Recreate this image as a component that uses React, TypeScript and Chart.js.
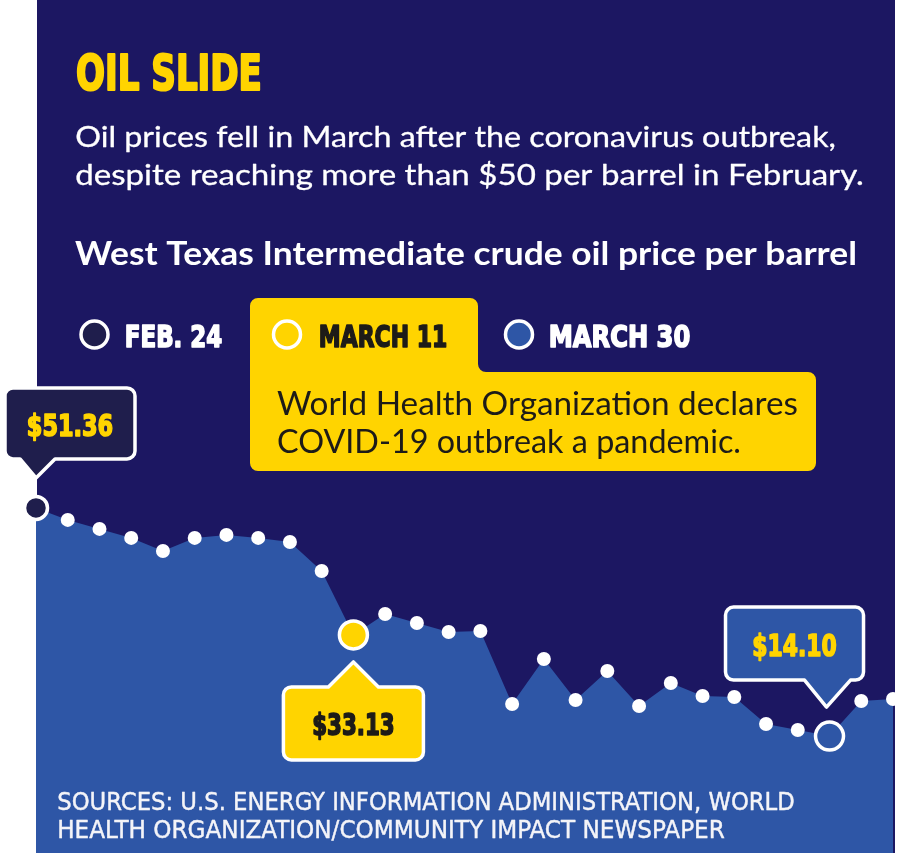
import React, { useEffect, useRef } from "react";
import { Chart, registerables } from "chart.js";

Chart.register(...registerables);

// ---------- data ----------
const dayLabels = [
  "Feb. 24", "", "", "", "", "", "", "", "", "",
  "March 11", "", "", "", "", "", "", "", "", "",
  "", "", "", "", "", "March 30", "", "",
];
const prices = [
  51.36, 49.4, 47.93, 46.46, 44.33, 46.46, 46.95, 46.46, 45.8, 41.06,
  30.61, 34.04, 32.57, 31.1, 31.26, 19.33, 26.68, 19.98, 24.72, 19.0,
  22.76, 20.64, 20.47, 16.06, 15.08, 14.1, 19.82, 20.15,
];
const keyIndex = [0, 10, 25];
const keyDates = ["FEB. 24", "MARCH 11", "MARCH 30"];
const keyPriceLabels = ["$51.36", "$33.13", "$14.10"];

const titleText = "OIL SLIDE";
const subtitleLines = [
  "Oil prices fell in March after the coronavirus outbreak,",
  "despite reaching more than $50 per barrel in February.",
];
const headingText = "West Texas Intermediate crude oil price per barrel";
const noteLines = [
  "World Health Organization declares",
  "COVID-19 outbreak a pandemic.",
];
const sourceLines = [
  "SOURCES: U.S. ENERGY INFORMATION ADMINISTRATION, WORLD",
  "HEALTH ORGANIZATION/COMMUNITY IMPACT NEWSPAPER",
];

// ---------- styles ----------
const NAVY = "#1c1762";
const BLUE = "#2e56a6";
const YELLOW = "#ffd400";
const DARK = "#1f1e4c";
const INK = "#1d1b18";
const WHITE = "#ffffff";
const COND = '"DejaVu Sans Condensed", "DejaVu Sans", sans-serif';
const SANS = 'Lato, "Noto Sans", sans-serif';

function fitText(
  ctx: CanvasRenderingContext2D,
  text: string,
  x: number,
  y: number,
  w: number,
  align: "left" | "center" = "left",
  heavy = 0
) {
  ctx.save();
  ctx.textAlign = "left";
  ctx.textBaseline = "alphabetic";
  const m = ctx.measureText(text).width || 1;
  const sx = (w - heavy) / m;
  const left = align === "center" ? x - w / 2 + heavy / 2 : x + heavy / 2;
  ctx.translate(left, y);
  ctx.scale(sx, 1);
  ctx.fillText(text, 0, 0);
  if (heavy > 0) {
    ctx.strokeStyle = ctx.fillStyle as string;
    ctx.lineWidth = heavy;
    ctx.lineJoin = "round";
    ctx.strokeText(text, 0, 0);
  }
  ctx.restore();
}

function circle(ctx: CanvasRenderingContext2D, x: number, y: number, r: number, fill: string, lw: number) {
  ctx.beginPath();
  ctx.arc(x, y, r, 0, Math.PI * 2);
  ctx.fillStyle = fill;
  ctx.fill();
  ctx.lineWidth = lw;
  ctx.strokeStyle = WHITE;
  ctx.stroke();
}

type Callout = {
  l: number; r: number; t: number; b: number;
  side: "top" | "bottom";
  baseL: number; baseR: number; tipX: number; tipY: number;
  fill: string; color: string; textW: number; textDy: number;
};

const callouts: Callout[] = [
  { l: -31, r: 99, t: -120, b: -49, side: "bottom", baseL: -16, baseR: 19, tipX: 0, tipY: -30, fill: DARK, color: YELLOW, textW: 88, textDy: 13 },
  { l: -70, r: 70, t: 52, b: 125, side: "top", baseL: -25, baseR: 25, tipX: 0, tipY: 27, fill: YELLOW, color: INK, textW: 84, textDy: 12 },
  { l: -104, r: 34, t: -129, b: -56, side: "bottom", baseL: -25, baseR: 21, tipX: -3, tipY: -29, fill: BLUE, color: YELLOW, textW: 86, textDy: 12 },
];

function calloutPath(ctx: CanvasRenderingContext2D, px: number, py: number, c: Callout) {
  const l = px + c.l, r = px + c.r, t = py + c.t, b = py + c.b;
  const rad = 8;
  ctx.beginPath();
  ctx.moveTo(l + rad, t);
  if (c.side === "top") {
    ctx.lineTo(px + c.baseL, t);
    ctx.lineTo(px + c.tipX, py + c.tipY);
    ctx.lineTo(px + c.baseR, t);
  }
  ctx.lineTo(r - rad, t);
  ctx.arcTo(r, t, r, t + rad, rad);
  ctx.lineTo(r, b - rad);
  ctx.arcTo(r, b, r - rad, b, rad);
  if (c.side === "bottom") {
    ctx.lineTo(px + c.baseR, b);
    ctx.lineTo(px + c.tipX, py + c.tipY);
    ctx.lineTo(px + c.baseL, b);
  }
  ctx.lineTo(l + rad, b);
  ctx.arcTo(l, b, l, b - rad, rad);
  ctx.lineTo(l, t + rad);
  ctx.arcTo(l, t, l + rad, t, rad);
  ctx.closePath();
}

const decorPlugin = {
  id: "decor",
  beforeDraw(chart: any) {
    const ctx: CanvasRenderingContext2D = chart.ctx;
    ctx.save();
    ctx.fillStyle = WHITE;
    ctx.fillRect(0, 0, chart.width, chart.height);
    ctx.fillStyle = NAVY;
    ctx.fillRect(37, 0, 858, 853);

    // title
    ctx.fillStyle = YELLOW;
    ctx.font = `bold 49px ${COND}`;
    fitText(ctx, titleText, 75, 90, 188, "left", 2.2);

    // subtitle
    ctx.fillStyle = WHITE;
    ctx.font = `29px ${SANS}`;
    fitText(ctx, subtitleLines[0], 75, 147, 761, "left", 0.3);
    fitText(ctx, subtitleLines[1], 75, 185, 789, "left", 0.3);

    ctx.font = `bold 32px ${SANS}`;
    fitText(ctx, headingText, 75, 265, 782);

    // yellow note box
    const r = 8;
    ctx.beginPath();
    ctx.moveTo(250 + r, 298);
    ctx.lineTo(478 - r, 298);
    ctx.arcTo(478, 298, 478, 298 + r, r);
    ctx.lineTo(478, 372 - r);
    ctx.arcTo(478, 372, 478 + r, 372, r);
    ctx.lineTo(816 - r, 372);
    ctx.arcTo(816, 372, 816, 372 + r, r);
    ctx.lineTo(816, 471 - r);
    ctx.arcTo(816, 471, 816 - r, 471, r);
    ctx.lineTo(250 + r, 471);
    ctx.arcTo(250, 471, 250, 471 - r, r);
    ctx.lineTo(250, 298 + r);
    ctx.arcTo(250, 298, 250 + r, 298, r);
    ctx.closePath();
    ctx.fillStyle = YELLOW;
    ctx.fill();

    ctx.fillStyle = INK;
    ctx.font = `32px ${SANS}`;
    fitText(ctx, noteLines[0], 277, 415, 521);
    fitText(ctx, noteLines[1], 277, 453, 464);

    // legend
    const legendX = [94.5, 287, 519];
    const legendFill = [DARK, YELLOW, BLUE];
    const legendTextX = [124, 318, 548];
    const legendTextW = [99, 130, 143];
    const legendColor = [WHITE, INK, WHITE];
    for (let i = 0; i < keyDates.length; i++) {
      circle(ctx, legendX[i], 334.5, 13.5, legendFill[i], 3.5);
      ctx.fillStyle = legendColor[i];
      ctx.font = `bold 31px ${COND}`;
      fitText(ctx, keyDates[i], legendTextX[i], 347, legendTextW[i], "left", 1.6);
    }
    ctx.restore();
  },
  afterDatasetsDraw(chart: any) {
    const ctx: CanvasRenderingContext2D = chart.ctx;
    ctx.save();
    // sources
    ctx.fillStyle = "#f4f4f8";
    ctx.font = `25px ${COND}`;
    fitText(ctx, sourceLines[0], 57, 810, 738, "left", 0.4);
    fitText(ctx, sourceLines[1], 57, 838, 668, "left", 0.4);

    // callouts
    const meta = chart.getDatasetMeta(0);
    keyIndex.forEach((idx, k) => {
      const pt = meta.data[idx];
      const c = callouts[k];
      const px = pt.x, py = pt.y;
      calloutPath(ctx, px, py, c);
      ctx.fillStyle = c.fill;
      ctx.fill();
      ctx.lineWidth = 3.5;
      ctx.strokeStyle = WHITE;
      ctx.lineJoin = "round";
      ctx.stroke();
      ctx.fillStyle = c.color;
      ctx.font = `bold 31px ${COND}`;
      const cx = px + (c.l + c.r) / 2;
      const cy = py + (c.t + c.b) / 2;
      fitText(ctx, keyPriceLabels[k], cx, cy + c.textDy, c.textW, "center", 1.6);
    });
    ctx.restore();
  },
};

export default function App() {
  const ref = useRef<HTMLCanvasElement | null>(null);

  useEffect(() => {
    document.body.style.margin = "0";
    const canvas = ref.current;
    if (!canvas) return;
    const keyFill: Record<number, string> = { 0: DARK, 10: YELLOW, 25: BLUE };
    const keyRadius: Record<number, number> = { 0: 11.5, 10: 14, 25: 14 };
    const chart = new Chart(canvas, {
      type: "line",
      data: {
        labels: dayLabels,
        datasets: [
          {
            label: "WTI crude oil price per barrel",
            data: prices,
            fill: "start",
            backgroundColor: BLUE,
            borderColor: BLUE,
            borderWidth: 0,
            tension: 0,
            clip: false as any,
            pointRadius: prices.map((_, i) => keyRadius[i] ?? 7),
            pointBackgroundColor: prices.map((_, i) => keyFill[i] ?? WHITE),
            pointBorderColor: WHITE,
            pointBorderWidth: prices.map((_, i) => (keyFill[i] ? 3.5 : 0)),
          },
        ],
      },
      options: {
        responsive: false,
        animation: false,
        devicePixelRatio: 1,
        events: [],
        layout: { autoPadding: false, padding: { left: 36, right: 7, top: 455, bottom: 3 } },
        scales: {
          x: { display: false, offset: false },
          y: { display: false, min: -5, max: 60 },
        },
        plugins: {
          legend: { display: false },
          tooltip: { enabled: false },
        },
      } as any,
      plugins: [decorPlugin],
    });
    const fonts = [
      `bold 30px ${COND}`,
      `24px ${COND}`,
      `29px ${SANS}`,
      `bold 32px ${SANS}`,
    ];
    Promise.all(fonts.map((f) => document.fonts.load(f).catch(() => null))).then(() => {
      chart.draw();
    });
    return () => chart.destroy();
  }, []);

  return (
    <div style={{ width: 900, height: 856 }}>
      <canvas ref={ref} width={900} height={856} style={{ display: "block" }} />
    </div>
  );
}
